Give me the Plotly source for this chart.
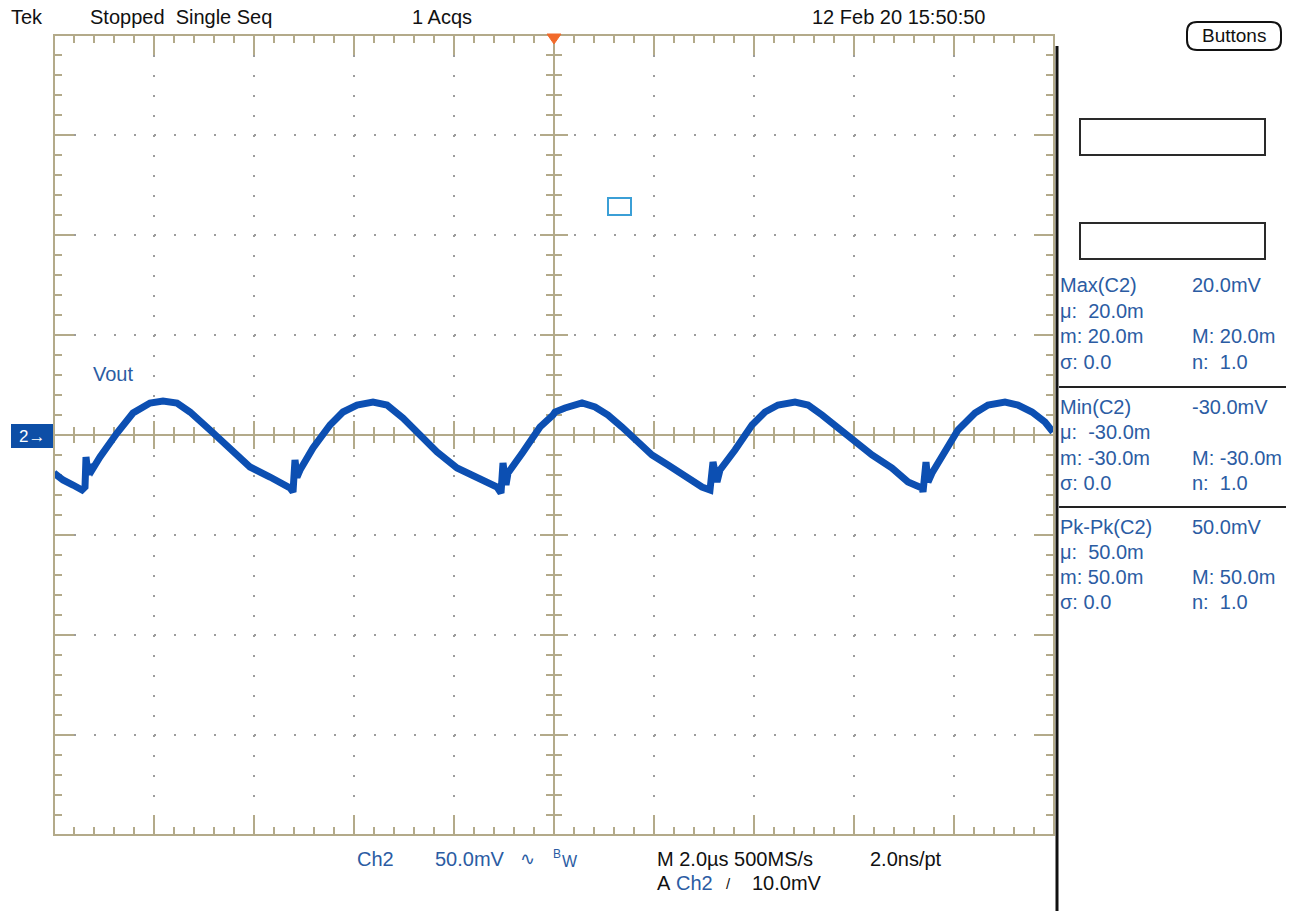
import numpy as np
import plotly.graph_objects as go

# ---- Acquired waveform (Ch2, Vout): time in microseconds, voltage in millivolts
t_us = [-10.0, -9.82, -9.62, -9.44, -9.38, -9.36, -9.32, -9.30, -9.24, -9.08,
        -8.74, -8.42, -8.08, -7.82, -7.54, -7.28, -6.88, -6.48, -6.08, -5.68, -5.28,
        -5.22, -5.18, -5.14, -5.08,
        -4.82, -4.48, -4.22, -3.94, -3.62, -3.34, -3.02, -2.68, -2.34, -1.94, -1.54, -1.14,
        -1.06, -1.02, -0.96, -0.92,
        -0.62, -0.28, -0.02, 0.02, 0.22, 0.56, 0.82, 1.08, 1.36, 1.62, 1.96, 2.28, 2.62, 2.96, 3.12,
        3.18, 3.26, 3.32,
        3.62, 3.96, 4.22, 4.48, 4.82, 5.08, 5.36, 5.68, 6.02, 6.36, 6.76, 7.08, 7.36, 7.38,
        7.44, 7.48, 7.56,
        7.82, 8.08, 8.42, 8.68, 9.02, 9.28, 9.56, 9.82, 9.98]
v_mV = [-19.0, -22.5, -25.0, -27.5, -26.0, -11.0, -20.0, -15.0, -17.5, -11.0,
        1.0, 11.0, 16.0, 17.0, 16.0, 11.5, 2.5, -6.5, -16.0, -21.0, -26.5,
        -28.5, -12.5, -21.0, -17.5,
        -6.5, 5.0, 11.5, 15.0, 16.5, 15.0, 8.5, 0.0, -8.5, -16.5, -21.0, -26.0,
        -29.0, -14.0, -25.0, -19.0,
        -8.5, 4.0, 10.0, 11.5, 13.5, 16.0, 14.0, 10.0, 4.0, -2.5, -10.0, -15.0, -21.0, -26.0, -27.5,
        -13.5, -23.5, -17.5,
        -7.5, 5.0, 11.5, 15.0, 16.5, 15.0, 10.0, 3.5, -4.0, -10.0, -16.5, -23.5, -26.5, -28.5,
        -13.5, -23.5, -19.0,
        -9.0, 2.5, 11.0, 15.0, 16.5, 15.0, 11.5, 6.5, 1.5]

# ---- Scope settings
time_per_div_us = 2.0
volts_per_div_mV = 50.0
h_divs = 10
v_divs = 8

# ---- Status / readout texts
status_texts = ["Tek", "Stopped\u00a0 Single Seq", "1 Acqs", "12 Feb 20 15:50:50"]
meas_left = ["Max(C2)", "\u03bc:  20.0m", "m: 20.0m", "\u03c3: 0.0",
             "Min(C2)", "\u03bc:  -30.0m", "m: -30.0m", "\u03c3: 0.0",
             "Pk-Pk(C2)", "\u03bc:  50.0m", "m: 50.0m", "\u03c3: 0.0"]
meas_right = ["20.0mV", "", "M: 20.0m", "n:  1.0",
              "-30.0mV", "", "M: -30.0m", "n:  1.0",
              "50.0mV", "", "M: 50.0m", "n:  1.0"]
channel_label = "Vout"

# ---- Colours
TAN = "#b3aa8a"
DOT = "#9c9c9c"
TRACE = "#0c4fb2"
BLUE_TXT = "#2b5ca3"
FONT = "Liberation Sans, Arial, sans-serif"

W, H = 1298, 911
L_PX, T_PX, PW, PH = 54, 35, 1000, 800

x_half = time_per_div_us * h_divs / 2
y_half = volts_per_div_mV * v_divs / 2
px_x = 2 * x_half / PW
px_y = 2 * y_half / PH


def px(x):
    return (x - L_PX) / PW


def py(y):
    return (T_PX + PH - y) / PH


# ---- Graticule tick marks (frame edges and centre crosshair)
tx, ty = [], []


def seg(x0, y0, x1, y1):
    tx.extend([x0, x1, None])
    ty.extend([y0, y1, None])


minor_dx = time_per_div_us / 5
minor_dy = volts_per_div_mV / 5
for k in range(1, h_divs * 5):
    x = -x_half + k * minor_dx
    major = k % 5 == 0
    ln = 20 if major else 8
    hl = 14 if major else 8
    seg(x, y_half, x, y_half - ln * px_y)
    seg(x, -y_half, x, -y_half + ln * px_y)
    if k != h_divs * 5 // 2:
        seg(x, -hl * px_y, x, hl * px_y)
for k in range(1, v_divs * 5):
    y = -y_half + k * minor_dy
    major = k % 5 == 0
    ln = 20 if major else 8
    hl = 14 if major else 8
    seg(-x_half, y, -x_half + ln * px_x, y)
    seg(x_half, y, x_half - ln * px_x, y)
    if k != v_divs * 5 // 2:
        seg(-hl * px_x, y, hl * px_x, y)
seg(-x_half, 0, x_half, 0)
seg(0, -y_half, 0, y_half)

fig = go.Figure()
fig.add_trace(go.Scatter(x=tx, y=ty, mode="lines", line=dict(color=TAN, width=2),
                         hoverinfo="skip", showlegend=False))
fig.add_trace(go.Scatter(x=t_us, y=v_mV, mode="lines", line=dict(color=TRACE, width=7),
                         hoverinfo="skip", showlegend=False))

axis_common = dict(showticklabels=False, ticks="", zeroline=False, showline=False,
                   showgrid=True, gridcolor=DOT, gridwidth=2, griddash="2px,18px",
                   fixedrange=True)
fig.update_xaxes(range=[-x_half, x_half], dtick=time_per_div_us, **axis_common)
fig.update_yaxes(range=[-y_half, y_half], dtick=volts_per_div_mV, **axis_common)

shapes = []
# graticule frame
shapes.append(dict(type="rect", xref="paper", yref="paper", x0=0, x1=1, y0=0, y1=1,
                   line=dict(color=TAN, width=2)))
# black divider right of the graticule
shapes.append(dict(type="line", xref="paper", yref="paper", x0=px(1057), x1=px(1057),
                   y0=py(46), y1=py(911), line=dict(color="#111111", width=3)))
# trigger position marker
shapes.append(dict(type="path", xref="paper", yref="paper",
                   path=f"M{px(547)},{py(34)} L{px(561)},{py(34)} L{px(554)},{py(44)} Z",
                   fillcolor="#f26a2a", line=dict(color="#f26a2a", width=1)))
# channel 2 ground marker
shapes.append(dict(type="rect", xref="paper", yref="paper", x0=px(11), x1=px(53),
                   y0=py(448), y1=py(424), fillcolor="#0d4ea6", line=dict(width=0)))
# cursor box
shapes.append(dict(type="rect", xref="paper", yref="paper", x0=px(608), x1=px(631),
                   y0=py(215), y1=py(198), line=dict(color="#3b9fd6", width=2)))
# empty readout boxes
for y0, y1 in [(119, 155), (223, 259)]:
    shapes.append(dict(type="rect", xref="paper", yref="paper", x0=px(1080), x1=px(1265),
                       y0=py(y1), y1=py(y0), line=dict(color="#2a2a2a", width=2)))
# measurement separators
for y in (387, 507):
    shapes.append(dict(type="line", xref="paper", yref="paper", x0=px(1059), x1=px(1286),
                       y0=py(y), y1=py(y), line=dict(color="#222222", width=2)))
# "Buttons" rounded box
bx0, bx1, by0, by1, r = 1187, 1281, 22, 50, 10
shapes.append(dict(type="path", xref="paper", yref="paper",
                   path=(f"M{px(bx0 + r)},{py(by0)} L{px(bx1 - r)},{py(by0)} "
                         f"Q{px(bx1)},{py(by0)} {px(bx1)},{py(by0 + r)} "
                         f"L{px(bx1)},{py(by1 - r)} Q{px(bx1)},{py(by1)} {px(bx1 - r)},{py(by1)} "
                         f"L{px(bx0 + r)},{py(by1)} Q{px(bx0)},{py(by1)} {px(bx0)},{py(by1 - r)} "
                         f"L{px(bx0)},{py(by0 + r)} Q{px(bx0)},{py(by0)} {px(bx0 + r)},{py(by0)} Z"),
                   line=dict(color="#111111", width=2)))

ann = []


def text(s, x, y, color="#111111", size=20, anchor="left"):
    ann.append(dict(text=s, x=px(x), y=py(y), xref="paper", yref="paper",
                    xanchor=anchor, yanchor="middle", showarrow=False,
                    font=dict(family=FONT, size=size, color=color)))


# header
for s, x in zip(status_texts, [9, 88, 410, 810]):
    text(s, x, 17)
text("Buttons", 1234, 36, size=19, anchor="center")
# channel label and ground marker text
text(channel_label, 91, 374, color=BLUE_TXT)
text("2\u2192", 17, 437, color="#ffffff", size=17)
# measurement readouts
row_y = [285, 311, 336, 362, 407, 432, 458, 483, 527, 552, 577, 602]
for s, y in zip(meas_left, row_y):
    text(s, 1058, y, color=BLUE_TXT)
for s, y in zip(meas_right, row_y):
    if s:
        text(s, 1190, y, color=BLUE_TXT)
# bottom status line
text("Ch2", 355, 859, color=BLUE_TXT)
text("50.0mV", 433, 859, color=BLUE_TXT)
text("\u223f", 518, 859, color=BLUE_TXT, size=18)
text("B", 551, 854, color=BLUE_TXT, size=12)
text("W", 560, 861, color=BLUE_TXT, size=16)
text("M 2.0\u00b5s 500MS/s", 655, 859)
text("2.0ns/pt", 868, 859)
text("A", 655, 883)
text("Ch2", 674, 883, color=BLUE_TXT)
text("/", 724, 883, size=15)
text("10.0mV", 750, 883)

fig.update_layout(width=W, height=H, margin=dict(l=L_PX, r=W - L_PX - PW, t=T_PX, b=H - T_PX - PH),
                  paper_bgcolor="white", plot_bgcolor="white", shapes=shapes, annotations=ann,
                  showlegend=False)

fig.write_html("out.html", config={"displayModeBar": False})
